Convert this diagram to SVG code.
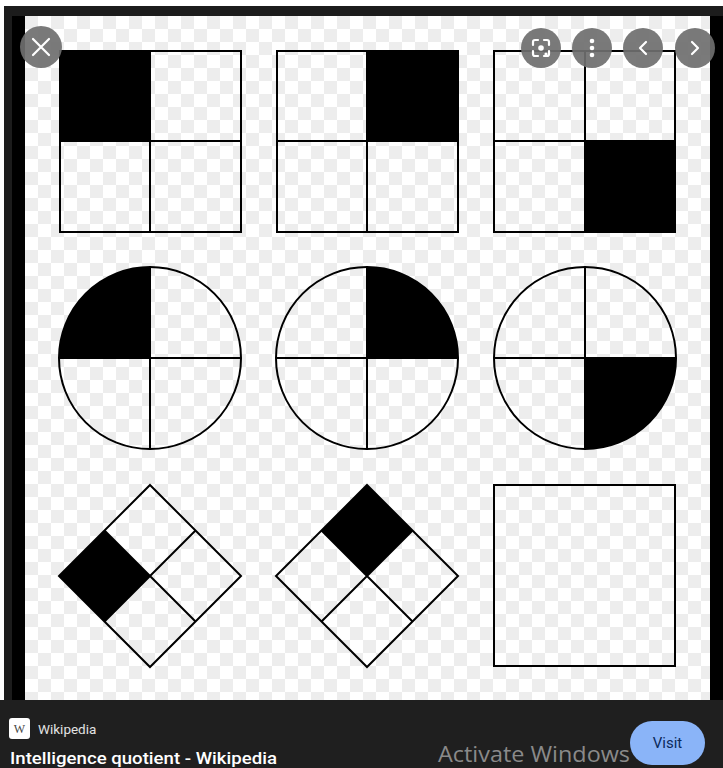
<svg xmlns="http://www.w3.org/2000/svg" width="723" height="768" viewBox="0 0 723 768">
<defs>
<pattern id="chk" x="25" y="16" width="26" height="26" patternUnits="userSpaceOnUse">
<rect width="26" height="26" fill="#ffffff"/>
<rect width="13" height="13" fill="#ededed"/>
<rect x="13" y="13" width="13" height="13" fill="#ededed"/>
</pattern>
<style>
.ln{fill:none;stroke:#000;stroke-width:2}
.blk{fill:#000}
.btn{fill:#6f6f6f;fill-opacity:0.92}
.ic{fill:none;stroke:#fff;stroke-width:2.2;stroke-linecap:round;stroke-linejoin:round}
</style>
</defs>
<rect width="723" height="768" fill="#ffffff"/>
<rect x="4" y="6" width="719" height="762" fill="#1c1c1c"/>
<rect x="12" y="16" width="711" height="684" fill="#000"/>
<rect x="25" y="16" width="685" height="684" fill="url(#chk)"/>
<rect x="0" y="700" width="723" height="68" fill="#1f1f1f"/>

<g id="sq1">
<rect class="blk" x="60" y="51" width="90" height="90"/>
<rect class="ln" x="60" y="51" width="181" height="181"/>
<path class="ln" d="M150 51V232M60 141H241"/>
</g>
<g id="sq2">
<rect class="blk" x="367" y="51" width="91" height="90"/>
<rect class="ln" x="277" y="51" width="181" height="181"/>
<path class="ln" d="M367 51V232M277 141H458"/>
</g>
<g id="sq3">
<rect class="blk" x="585" y="141" width="90" height="91"/>
<rect class="ln" x="494" y="51" width="181" height="181"/>
<path class="ln" d="M585 51V232M494 141H675"/>
</g>

<g id="c1">
<path class="blk" d="M150 358V267A91 91 0 0 0 59 358Z"/>
<circle class="ln" cx="150" cy="358" r="91"/>
<path class="ln" d="M150 267V449M59 358H241"/>
</g>
<g id="c2">
<path class="blk" d="M367 358V267A91 91 0 0 1 458 358Z"/>
<circle class="ln" cx="367" cy="358" r="91"/>
<path class="ln" d="M367 267V449M276 358H458"/>
</g>
<g id="c3">
<path class="blk" d="M585 358H676A91 91 0 0 1 585 449Z"/>
<circle class="ln" cx="585" cy="358" r="91"/>
<path class="ln" d="M585 267V449M494 358H676"/>
</g>

<g id="d1">
<path class="blk" d="M59 576L104.5 530.5L150 576L104.5 621.5Z"/>
<path class="ln" d="M150 485L241 576L150 667L59 576Z"/>
<path class="ln" d="M104.5 530.5L195.5 621.5M195.5 530.5L104.5 621.5"/>
</g>
<g id="d2">
<path class="blk" d="M367 485L412.5 530.5L367 576L321.5 530.5Z"/>
<path class="ln" d="M367 485L458 576L367 667L276 576Z"/>
<path class="ln" d="M321.5 530.5L412.5 621.5M412.5 530.5L321.5 621.5"/>
</g>
<g id="sq9">
<rect class="ln" x="494" y="485" width="181" height="181"/>
</g>

<g id="buttons">
<circle class="btn" cx="41" cy="47" r="21"/>
<path class="ic" d="M33 39L49 55M49 39L33 55"/>
<circle class="btn" cx="541" cy="48" r="20"/>
<path class="ic" d="M533 45V42Q533 40 535 40H538M544 40H547Q549 40 549 42V45M549 51V54Q549 56 547 56H544M538 56H535Q533 56 533 54V51"/>
<circle cx="541" cy="48" r="2.8" fill="#fff"/>
<circle cx="546" cy="54" r="1.6" fill="#fff"/>
<circle class="btn" cx="592" cy="48" r="20"/>
<circle cx="592" cy="41" r="2.3" fill="#fff"/>
<circle cx="592" cy="48" r="2.3" fill="#fff"/>
<circle cx="592" cy="55" r="2.3" fill="#fff"/>
<circle class="btn" cx="643" cy="48" r="20"/>
<path class="ic" d="M646 42L640 48L646 54"/>
<circle class="btn" cx="695" cy="48" r="20"/>
<path class="ic" d="M692 42L698 48L692 54"/>
</g>

<g id="footer">
<rect x="9" y="718" width="21" height="21" rx="3" fill="#ffffff"/>
<text x="19.5" y="733" font-family="Liberation Serif, serif" font-size="12" fill="#444" text-anchor="middle">W</text>
<text x="38" y="734" font-family="Roboto, Liberation Sans, sans-serif" font-size="13.5" fill="#e3e3e3">Wikipedia</text>
<text x="10" y="764" font-family="Roboto, Liberation Sans, sans-serif" font-size="17" font-weight="500" fill="#ffffff" textLength="267" lengthAdjust="spacingAndGlyphs">Intelligence quotient - Wikipedia</text>
<text x="438" y="762" font-family="Open Sans, Liberation Sans, sans-serif" font-size="21" fill="#8a8a8a" textLength="192" lengthAdjust="spacingAndGlyphs">Activate Windows</text>
<rect x="630" y="721" width="75" height="44" rx="22" fill="#8ab4f8"/>
<text x="667.5" y="748" font-family="Roboto, Liberation Sans, sans-serif" font-size="15" fill="#0b2a5c" text-anchor="middle">Visit</text>
</g>
</svg>
